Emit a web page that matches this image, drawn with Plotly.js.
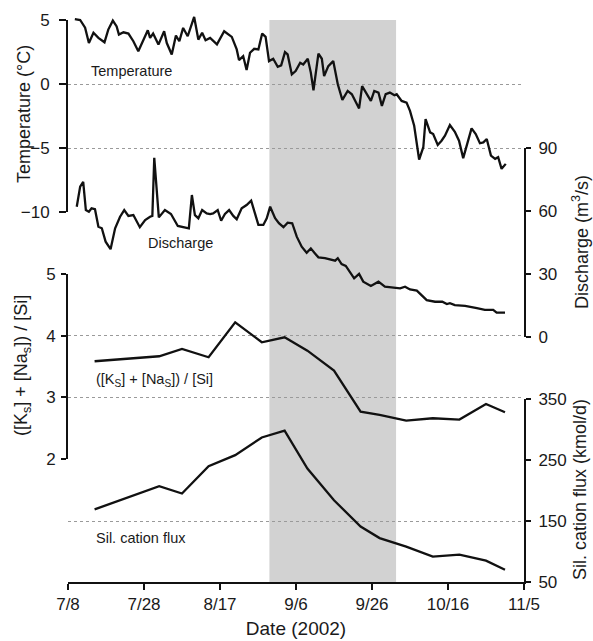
<!DOCTYPE html>
<html><head><meta charset="utf-8">
<script src="https://cdn.plot.ly/plotly-3.0.1.min.js"></script>
<style>html,body{margin:0;padding:0;background:#fff}#chart{width:593px;height:641px}</style>
</head><body><div id="chart"></div>
<script>
// ---- data (days counted from 2002-07-08) ----
const tempDay = [1.8,3.2,4.5,5.5,6.7,8.0,9.6,10.6,11.8,12.8,13.4,14.6,15.9,17.2,18.5,19.8,21.0,21.6,22.4,23.8,25.3,26.0,27.3,28.4,29.3,30.3,31.5,33.2,34.3,35.3,36.2,37.4,39.2,41.1,43.1,44.4,45.0,46.1,47.0,47.9,49.0,50.1,51.1,52.0,52.9,54.0,55.2,56.1,57.1,57.8,58.9,59.9,61.1,61.9,63.1,63.9,64.6,65.9,66.8,67.4,68.5,69.8,71.0,72.2,73.6,74.7,75.5,76.6,77.4,78.6,79.7,80.6,81.7,82.6,83.6,84.7,85.9,86.5,87.8,89.1,90.0,91.1,92.4,93.5,94.1,95.3,96.1,97.3,98.3,99.2,100.5,101.8,102.9,104.0,105.2,106.2,107.3,108.4,109.3,110.2,111.3,112.4,113.2,114.1,115.2];
const tempC = [5.07,5.0,4.4,3.2,4.0,3.6,3.26,4.25,4.95,4.5,3.86,4.04,3.94,3.34,2.56,3.47,4.2,3.6,3.94,3.08,4.12,3.2,2.3,3.78,3.34,4.38,3.73,5.24,3.47,4.0,3.42,3.6,3.1,4.12,3.68,2.7,1.87,2.18,1.09,2.44,2.75,2.7,3.94,3.68,1.79,1.97,1.35,1.45,2.49,2.31,0.75,1.01,1.66,1.53,1.97,0.89,-0.49,2.38,1.97,0.62,1.4,1.79,-0.02,-1.24,-0.54,-0.8,-1.32,-1.91,-0.16,-0.8,-1.32,-0.54,-0.67,-1.71,-0.8,-0.67,-0.88,-0.8,-1.32,-1.45,-2.1,-3.26,-5.9,-4.94,-2.74,-3.78,-3.91,-4.76,-4.43,-4.04,-3.21,-3.73,-4.43,-5.79,-4.43,-3.47,-3.91,-4.63,-4.56,-4.3,-5.59,-5.85,-5.72,-6.63,-6.24];

const qDay = [2.3,3.2,4.0,4.7,5.5,6.2,7.1,8.0,8.9,9.9,11.2,12.4,13.7,14.8,15.9,17.2,18.9,20.3,21.6,22.2,22.7,23.9,25.5,27.1,28.9,30.3,31.8,32.6,33.4,34.3,35.3,36.5,37.4,38.2,39.4,40.3,41.3,42.4,43.5,44.4,45.7,47.0,48.2,49.2,50.1,51.4,52.3,53.2,54.5,55.5,56.7,57.8,59.0,60.2,61.5,62.8,63.9,65.0,65.9,67.6,69.2,70.3,71.0,72.0,73.1,74.2,75.3,76.6,77.7,79.7,81.7,83.4,85.2,87.4,88.7,90.0,91.8,92.9,94.4,96.6,98.5,99.7,100.5,101.8,104.5,107.6,109.7,111.9,112.8,115.0];
const qVal = [62.1,71.7,74.0,60.5,59.7,61.3,60.9,52.5,51.8,45.4,41.8,51.8,57.3,60.5,57.7,58.1,52.3,55.7,57.3,57.7,85.5,57.0,60.5,58.6,52.9,52.3,51.8,67.7,58.1,56.6,60.5,58.9,58.6,58.9,60.5,55.4,58.6,60.5,57.7,56.1,61.3,62.9,65.0,58.9,53.4,53.4,56.6,62.1,56.6,54.2,52.3,54.5,54.2,47.8,43.0,40.1,42.2,39.8,37.9,37.5,37.0,36.3,37.5,34.7,33.8,31.1,27.9,30.0,26.3,24.2,26.3,23.9,23.6,23.1,23.9,22.6,22.0,19.9,17.5,16.7,16.7,15.6,16.0,15.1,14.7,13.6,12.8,12.8,11.5,11.5];

const chemDate = ['2002-07-15','2002-08-01','2002-08-07','2002-08-14','2002-08-21','2002-08-28','2002-09-03','2002-09-09','2002-09-16','2002-09-23','2002-09-28','2002-10-05','2002-10-12','2002-10-19','2002-10-26','2002-10-31'];
const ratio = [3.585,3.666,3.784,3.65,4.217,3.893,3.974,3.757,3.433,2.768,2.715,2.622,2.661,2.64,2.893,2.758];
const flux = [169,207,195,240,258,287,298,236,184,141,122,108,91.5,95,85,70];

const tickDates = ['2002-07-08','2002-07-28','2002-08-17','2002-09-06','2002-09-26','2002-10-16','2002-11-05'];
const tickLabels = ['7/8','7/28','8/17','9/6','9/26','10/16','11/5'];
const shadeStart = '2002-08-30', shadeEnd = '2002-10-02 08:00';

function dayToDate(d){
  const t = Date.UTC(2002,6,8) + d*86400000;
  return new Date(t).toISOString().slice(0,19).replace('T',' ');
}

const FONT = 'Liberation Sans, Arial, Helvetica, sans-serif';
const TXT = '#1a1a1a';
const lineStyle = {color:'#111', width:2.3};

const traces = [
  // empty trace so the visible temperature axis (y) gets its subplot drawn
  {x: [], y: [], xaxis:'x', yaxis:'y', mode:'lines', hoverinfo:'skip', showlegend:false},
  {x: tempDay.map(dayToDate), y: tempC, xaxis:'x', yaxis:'y5', mode:'lines', line:lineStyle, hoverinfo:'skip'},
  {x: qDay.map(dayToDate), y: qVal, xaxis:'x', yaxis:'y2', mode:'lines', line:lineStyle, hoverinfo:'skip'},
  {x: chemDate, y: ratio, xaxis:'x', yaxis:'y3', mode:'lines', line:lineStyle, hoverinfo:'skip'},
  {x: chemDate, y: flux, xaxis:'x', yaxis:'y4', mode:'lines', line:lineStyle, hoverinfo:'skip'}
];

// pixel layout helpers (plot area: x 68..524, y 10..582)
const T = 10, B = 582, L = 68, R = 524;
const py = p => (B - p) / (B - T);
const px = p => (p - L) / (R - L);

function yax(o){
  return Object.assign({
    showline:true, linecolor:'#111', linewidth:2,
    ticks:'outside', tickcolor:'#111', tickwidth:2, ticklen:6,
    tickfont:{family:FONT, size:17, color:TXT},
    zeroline:false, showgrid:false, fixedrange:true, anchor:'x'
  }, o);
}
const gridStyle = {showgrid:true, gridcolor:'#9a9a9a', gridwidth:1, griddash:'dot'};

function label(text, x, y, size, angle){
  return {text:text, xref:'paper', yref:'paper', x:px(x), y:py(y), xanchor:'center', yanchor:'middle',
    textangle:angle||0, showarrow:false, font:{size:size, family:FONT, color:TXT}};
}

// temperature scale: 5 at y=20px, -10 at y=212px; the data axis (y5) uses the same
// scale but runs up to the top of the plot area so values just above 5 are not clipped
const tPxPerUnit = (212 - 20) / 15;

const layout = {
  width:593, height:641,
  margin:{l:L, r:593-R, t:T, b:641-B, pad:0},
  paper_bgcolor:'#fff', plot_bgcolor:'rgba(0,0,0,0)',
  showlegend:false,
  font:{family:FONT, color:TXT},
  xaxis:{
    domain:[0,1], anchor:'y4', type:'date',
    range:[tickDates[0], tickDates[tickDates.length-1]],
    tickvals:tickDates, ticktext:tickLabels,
    showline:true, linecolor:'#111', linewidth:2,
    ticks:'outside', tickcolor:'#111', tickwidth:2, ticklen:6,
    tickfont:{family:FONT, size:17, color:TXT},
    showgrid:false, zeroline:false, fixedrange:true,
    title:{text:'Date (2002)', font:{family:FONT, size:19, color:TXT}, standoff:8}
  },
  yaxis: yax(Object.assign({domain:[py(212), py(20)], range:[-10,5], tickvals:[-10,-5,0,5], side:'left', ticklen:7, ticklabelstandoff:6}, gridStyle)),
  yaxis5: {domain:[py(212), 1], range:[-10, 5 + (20 - T)/tPxPerUnit], visible:false, anchor:'x', fixedrange:true},
  yaxis2: yax({domain:[py(336.7), py(148.3)], range:[0,90], tickvals:[0,30,60,90], side:'right', ticklen:5, ticklabelstandoff:4}),
  yaxis3: yax(Object.assign({domain:[py(459), py(274)], range:[2,5], tickvals:[2,3,4,5], side:'left', ticklen:5, ticklabelstandoff:2}, gridStyle)),
  yaxis4: yax({domain:[0, py(399)], range:[50,350], tickvals:[50,150,250,350], side:'right', ticklen:5, ticklabelstandoff:4,
    minor:{tickvals:[150], ticks:'', showgrid:true, gridcolor:'#9a9a9a', gridwidth:1, griddash:'dot'}}),
  shapes:[{
    type:'rect', xref:'x', yref:'paper', x0:shadeStart, x1:shadeEnd, y0:0, y1:py(20),
    fillcolor:'#d2d2d2', line:{width:0}, layer:'below'
  }],
  annotations:[
    label('Temperature (°C)', 24, 114, 18, -90),
    label('([K<sub>s</sub>] + [Na<sub>s</sub>]) / [Si]', 22, 366, 18, -90),
    label('Discharge (m<sup>3</sup>/s)', 580, 242, 18, -90),
    label('Sil. cation flux (kmol/d)', 580, 490, 18, -90),
    label('Temperature', 131, 71, 14.5),
    label('Discharge', 180, 243, 14.5),
    label('([K<sub>S</sub>] + [Na<sub>S</sub>]) / [Si]', 154, 380, 14.5),
    label('Sil. cation flux', 141, 538, 14.5)
  ]
};

Plotly.newPlot('chart', traces, layout, {displayModeBar:false, staticPlot:true});
</script>
</body></html>
